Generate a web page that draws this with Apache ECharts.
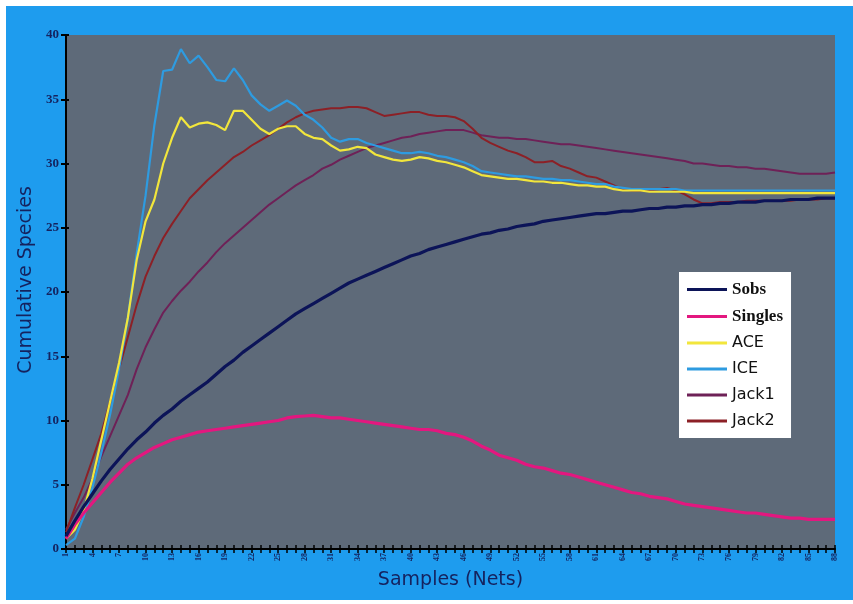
<!DOCTYPE html>
<html><head><meta charset="utf-8">
<script src="https://cdn.jsdelivr.net/npm/echarts@6/dist/echarts.min.js"></script>
<style>html,body{margin:0;padding:0;background:#ffffff;}#wrap{position:absolute;left:6px;top:6px;width:847px;height:594px;background:#1E9CEE;}#c{position:absolute;left:0;top:0;width:853px;height:604px;}</style>
</head><body><div id="wrap"></div><div id="c"></div>
<script>
const samples = Array.from({length: 88}, (_, i) => String(i + 1));
const sobs = [1.0,2.2,3.3,4.3,5.3,6.2,7.0,7.8,8.5,9.1,9.8,10.4,10.9,11.5,12.0,12.5,13.0,13.6,14.2,14.7,15.3,15.8,16.3,16.8,17.3,17.8,18.3,18.7,19.1,19.5,19.9,20.3,20.7,21.0,21.3,21.6,21.9,22.2,22.5,22.8,23.0,23.3,23.5,23.7,23.9,24.1,24.3,24.5,24.6,24.8,24.9,25.1,25.2,25.3,25.5,25.6,25.7,25.8,25.9,26.0,26.1,26.1,26.2,26.3,26.3,26.4,26.5,26.5,26.6,26.6,26.7,26.7,26.8,26.8,26.9,26.9,27.0,27.0,27.0,27.1,27.1,27.1,27.2,27.2,27.2,27.3,27.3,27.3];
const singles = [0.8,1.9,2.8,3.6,4.4,5.2,5.9,6.6,7.1,7.5,7.9,8.2,8.5,8.7,8.9,9.1,9.2,9.3,9.4,9.5,9.6,9.7,9.8,9.9,10.0,10.2,10.3,10.35,10.4,10.3,10.2,10.2,10.1,10.0,9.9,9.8,9.7,9.6,9.5,9.4,9.3,9.3,9.2,9.0,8.9,8.7,8.4,8.0,7.7,7.3,7.1,6.9,6.6,6.4,6.3,6.1,5.9,5.8,5.6,5.4,5.2,5.0,4.8,4.6,4.4,4.3,4.1,4.0,3.9,3.7,3.5,3.4,3.3,3.2,3.1,3.0,2.9,2.8,2.8,2.7,2.6,2.5,2.4,2.4,2.3,2.3,2.3,2.3];
const ace = [0.8,1.5,3.0,5.5,8.5,11.5,14.5,18.0,22.5,25.5,27.2,30.0,32.0,33.6,32.8,33.1,33.2,33.0,32.6,34.1,34.1,33.4,32.7,32.3,32.7,32.9,32.9,32.3,32.0,31.9,31.4,31.0,31.1,31.3,31.2,30.7,30.5,30.3,30.2,30.3,30.5,30.4,30.2,30.1,29.9,29.7,29.4,29.1,29.0,28.9,28.8,28.8,28.7,28.6,28.6,28.5,28.5,28.4,28.3,28.3,28.2,28.2,28.0,27.9,27.9,27.9,27.8,27.8,27.8,27.8,27.8,27.7,27.7,27.7,27.7,27.7,27.7,27.7,27.7,27.7,27.7,27.7,27.7,27.7,27.7,27.7,27.7,27.7];
const ice = [0.3,0.8,2.5,4.8,7.5,10.5,14.0,18.0,23.0,27.5,33.0,37.2,37.3,38.9,37.8,38.4,37.5,36.5,36.4,37.4,36.5,35.3,34.6,34.1,34.5,34.9,34.5,33.8,33.4,32.8,32.0,31.7,31.9,31.9,31.6,31.4,31.2,31.0,30.8,30.8,30.9,30.8,30.6,30.5,30.3,30.1,29.8,29.4,29.3,29.2,29.1,29.0,29.0,28.9,28.8,28.8,28.7,28.7,28.6,28.5,28.4,28.4,28.2,28.1,28.0,28.0,28.0,28.0,28.0,28.0,27.9,27.9,27.9,27.9,27.9,27.9,27.9,27.9,27.9,27.9,27.9,27.9,27.9,27.9,27.9,27.9,27.9,27.9];
const jack1 = [1.5,2.8,4.0,5.5,7.2,8.8,10.4,12.0,14.0,15.7,17.1,18.4,19.3,20.1,20.8,21.6,22.3,23.1,23.8,24.4,25.0,25.6,26.2,26.8,27.3,27.8,28.3,28.7,29.1,29.6,29.9,30.3,30.6,30.9,31.2,31.4,31.6,31.8,32.0,32.1,32.3,32.4,32.5,32.6,32.6,32.6,32.4,32.2,32.1,32.0,32.0,31.9,31.9,31.8,31.7,31.6,31.5,31.5,31.4,31.3,31.2,31.1,31.0,30.9,30.8,30.7,30.6,30.5,30.4,30.3,30.2,30.0,30.0,29.9,29.8,29.8,29.7,29.7,29.6,29.6,29.5,29.4,29.3,29.2,29.2,29.2,29.2,29.3];
const jack2 = [1.3,3.2,5.0,7.0,9.0,11.5,14.0,16.5,19.0,21.2,22.8,24.2,25.3,26.3,27.3,28.0,28.7,29.3,29.9,30.5,30.9,31.4,31.8,32.2,32.7,33.2,33.6,33.9,34.1,34.2,34.3,34.3,34.4,34.4,34.3,34.0,33.7,33.8,33.9,34.0,34.0,33.8,33.7,33.7,33.6,33.3,32.7,32.0,31.6,31.3,31.0,30.8,30.5,30.1,30.1,30.2,29.8,29.6,29.3,29.0,28.9,28.6,28.3,28.0,27.9,27.9,27.9,28.0,28.1,27.9,27.6,27.2,26.9,26.9,27.0,27.0,27.0,27.1,27.1,27.1,27.1,27.1,27.1,27.2,27.2,27.2,27.3,27.3];
const seriesNames = ['Sobs','Singles','ACE','ICE','Jack1','Jack2'];
const yTicks = [0,5,10,15,20,25,30,35,40];

const colors = {Sobs:'#0C1458', Singles:'#E3177F', ACE:'#F2E63C', ICE:'#2E9BE0', Jack1:'#6E2157', Jack2:'#8C2026'};
const widths = {Sobs:3.2, Singles:3.2, ACE:2.2, ICE:2.2, Jack1:2, Jack2:2};
const dataMap = {Sobs:sobs, Singles:singles, ACE:ace, ICE:ice, Jack1:jack1, Jack2:jack2};
const drawOrder = ['Jack1','Jack2','ICE','ACE','Singles','Sobs'];

const chart = echarts.init(document.getElementById('c'), null, {renderer:'canvas'});
const navy = '#15225E';
chart.setOption({
  backgroundColor: 'transparent',
  animation: false,
  grid: {left: 66, right: 18, top: 35, bottom: 55, show: true, backgroundColor: '#5E6A79', borderWidth: 0},
  legend: {
    data: seriesNames,
    orient: 'vertical', left: 679, top: 272,
    backgroundColor: '#ffffff', padding: [9, 8, 9, 8],
    itemWidth: 40, itemHeight: 3, itemGap: 10, icon: 'rect',
    textStyle: {
      color: '#111', fontSize: 16, fontFamily: 'DejaVu Sans',
      rich: {
        b: {fontFamily: 'Liberation Serif', fontWeight: 'bold', fontSize: 17, color: '#111'},
        n: {fontFamily: 'DejaVu Sans', fontSize: 16, color: '#111'}
      }
    },
    formatter: function (n) { return (n === 'Sobs' || n === 'Singles') ? '{b|' + n + '}' : '{n|' + n + '}'; }
  },
  xAxis: [{
    type: 'category', data: samples, boundaryGap: false,
    name: 'Samples (Nets)', nameLocation: 'middle', nameGap: 22,
    nameTextStyle: {color: navy, fontSize: 19, fontFamily: 'DejaVu Sans'},
    axisLine: {lineStyle: {color: '#000', width: 2}},
    axisTick: {show: true, interval: 0, length: 4, lineStyle: {color: '#000', width: 1.5}},
    axisLabel: {interval: 2, rotate: 90, color: navy, fontSize: 8, fontWeight: 'bold', fontFamily: 'Liberation Serif', margin: 4},
    splitLine: {show: false}
  }, {
    type: 'category', data: samples, boundaryGap: false, position: 'bottom',
    axisLine: {show: false},
    axisTick: {show: true, inside: true, interval: 0, length: 4, lineStyle: {color: '#000', width: 1.5}},
    axisLabel: {show: false}, splitLine: {show: false}
  }],
  yAxis: [{
    type: 'value', min: yTicks[0], max: yTicks[yTicks.length - 1], interval: 5,
    name: 'Cumulative Species', nameLocation: 'middle', nameGap: 30,
    nameTextStyle: {color: navy, fontSize: 19, fontFamily: 'DejaVu Sans', padding: [0, 0, 0, 24]},
    axisLine: {show: true, lineStyle: {color: '#000', width: 2}},
    axisTick: {show: true, length: 5, lineStyle: {color: '#000', width: 2}},
    axisLabel: {color: navy, fontSize: 13, fontWeight: 'bold', fontFamily: 'Liberation Serif', margin: 7},
    splitLine: {show: false}
  }, {
    type: 'value', min: yTicks[0], max: yTicks[yTicks.length - 1], interval: 5, position: 'left',
    axisLine: {show: false},
    axisTick: {show: true, inside: true, length: 3, lineStyle: {color: '#000', width: 2}},
    axisLabel: {show: false}, splitLine: {show: false}
  }],
  series: drawOrder.map(n => ({
    name: n, type: 'line', data: dataMap[n], showSymbol: false, symbol: 'none',
    lineStyle: {color: colors[n], width: widths[n]}, itemStyle: {color: colors[n]},
    smooth: false
  }))
});
</script></body></html>
